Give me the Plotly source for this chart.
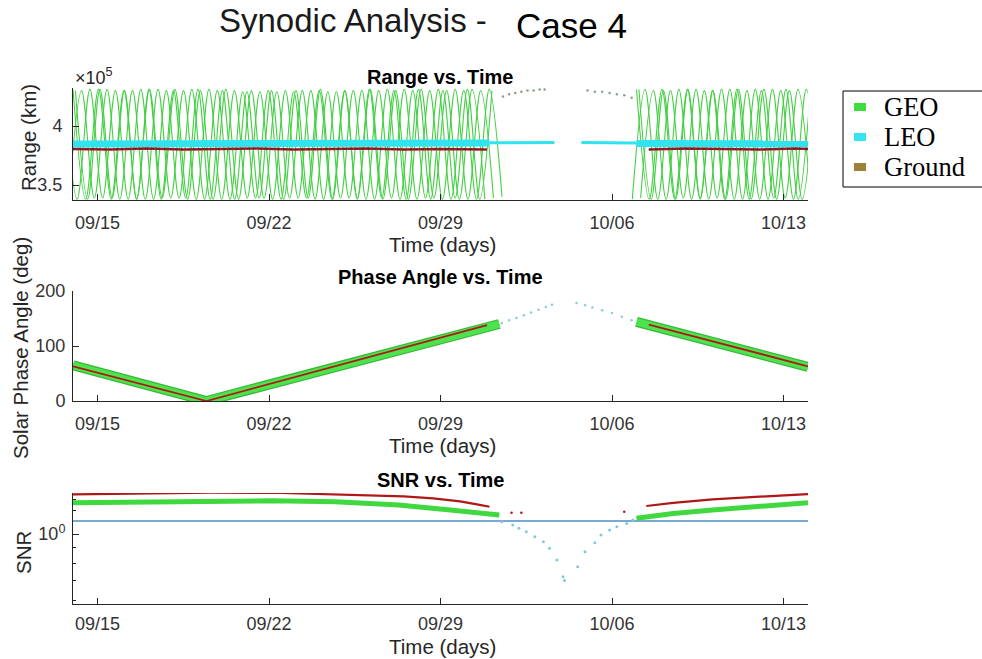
import pandas as pd
import plotly.graph_objects as go

W, H = 982, 659
BASE = pd.Timestamp("2020-09-14")

# ---------------- data (days after 09/14) ----------------
tick_days = [1, 8, 15, 22, 29]
tick_labels = ["09/15", "09/22", "09/29", "10/06", "10/13"]

# Range (units of 1e5 km): GEO satellites, extremes of each daily oscillation
geoA_day = [0.00, 0.52, 1.04, 1.56, 2.08, 2.60, 3.12, 3.64, 4.16, 4.68, 5.20, 5.72, 6.24, 6.76, 7.28, 7.80, 8.32,
            8.84, 9.36, 9.88, 10.40, 10.92, 11.44, 11.96, 12.48, 13.00, 13.52, 14.04, 14.56, 15.08, 15.60, 16.12,
            16.64, 17.16, None,
            23.00, 23.52, 24.04, 24.56, 25.08, 25.60, 26.12, 26.64, 27.16, 27.68, 28.20, 28.72, 29.24, 29.76, 30.28]
geoA_rng = [4.31, 3.38, 4.31, 3.38, 4.30, 3.38, 4.31, 3.39, 4.31, 3.38, 4.30, 3.38, 4.31, 3.38, 4.30, 3.39, 4.29,
            3.39, 4.30, 3.38, 4.29, 3.39, 4.30, 3.38, 4.30, 3.39, 4.31, 3.38, 4.30, 3.38, 4.31, 3.38, 4.30, 3.39, None,
            4.31, 3.38, 4.31, 3.38, 4.31, 3.38, 4.30, 3.38, 4.31, 3.38, 4.31, 3.38, 4.30, 3.38, 4.31]
geoB_day = [-0.17, 0.35, 0.87, 1.39, 1.91, 2.43, 2.95, 3.47, 3.99, 4.51, 5.03, 5.55, 6.07, 6.59, 7.11, 7.63, 8.15,
            8.67, 9.19, 9.71, 10.23, 10.75, 11.27, 11.79, 12.31, 12.83, 13.35, 13.87, 14.39, 14.91, 15.43, 15.95,
            16.47, 16.99, 17.51, None,
            22.83, 23.35, 23.87, 24.39, 24.91, 25.43, 25.95, 26.47, 26.99, 27.51, 28.03, 28.55, 29.07, 29.59, 30.11]
geoB_rng = [3.38, 4.30, 3.39, 4.31, 3.38, 4.30, 3.38, 4.31, 3.39, 4.30, 3.38, 4.31, 3.38, 4.30, 3.39, 4.29, 3.38,
            4.30, 3.39, 4.30, 3.38, 4.29, 3.39, 4.30, 3.38, 4.31, 3.38, 4.30, 3.39, 4.31, 3.38, 4.30, 3.38, 4.31, 3.40,
            None,
            3.38, 4.31, 3.38, 4.30, 3.39, 4.31, 3.38, 4.31, 3.38, 4.30, 3.38, 4.31, 3.39, 4.31, 3.38]
geoC_day = [-0.35, 0.17, 0.69, 1.21, 1.73, 2.25, 2.77, 3.29, 3.81, 4.33, 4.85, 5.37, 5.89, 6.41, 6.93, 7.45, 7.97,
            8.49, 9.01, 9.53, 10.05, 10.57, 11.09, 11.61, 12.13, 12.65, 13.17, 13.69, 14.21, 14.73, 15.25, 15.77,
            16.29, 16.81, None,
            23.17, 23.69, 24.21, 24.73, 25.25, 25.77, 26.29, 26.81, 27.33, 27.85, 28.37, 28.89, 29.41, 29.93, 30.45]
geoC_rng = [4.30, 3.38, 4.31, 3.39, 4.30, 3.38, 4.31, 3.38, 4.30, 3.39, 4.31, 3.38, 4.30, 3.38, 4.29, 3.39, 4.30,
            3.38, 4.29, 3.39, 4.30, 3.38, 4.30, 3.39, 4.31, 3.38, 4.30, 3.38, 4.31, 3.39, 4.30, 3.38, 4.31, 3.38, None,
            3.39, 4.30, 3.38, 4.31, 3.38, 4.30, 3.39, 4.31, 3.38, 4.31, 3.38, 4.30, 3.38, 4.31, 3.38]
geoD_day = [0.10, 0.60, 1.10, 1.60, 2.10, 2.60, 3.10, 3.60, 4.10, 4.60, 5.10, 5.60, 6.10, 6.60, 7.10, 7.60, 8.10,
            8.60, 9.10, 9.60, 10.10, 10.60, 11.10, 11.60, 12.10, 12.60, 13.10, 13.60, 14.10, 14.60, 15.10, 15.60,
            16.10, 16.60, 17.10, None,
            23.10, 23.60, 24.10, 24.60, 25.10, 25.60, 26.10, 26.60, 27.10, 27.60, 28.10, 28.60, 29.10, 29.60, 30.10]
geoD_rng = [4.30, 3.38, 4.31, 3.39, 4.30, 3.38, 4.31, 3.38, 4.30, 3.39, 4.31, 3.38, 4.30, 3.38, 4.29, 3.39, 4.30,
            3.38, 4.30, 3.39, 4.31, 3.38, 4.30, 3.38, 4.31, 3.39, 4.30, 3.38, 4.31, 3.38, 4.30, 3.39, 4.31, 3.38, 4.30,
            None,
            4.31, 3.38, 4.30, 3.38, 4.31, 3.39, 4.30, 3.38, 4.31, 3.38, 4.30, 3.39, 4.31, 3.38, 4.30]
geo_gap_day = [17.55, 17.8, 18.05, 18.3, 18.55, 18.8, 19.05, 19.25, 21.0, 21.3, 21.6, 21.9, 22.2, 22.5, 22.8]
geo_gap_rng = [4.25, 4.27, 4.28, 4.29, 4.30, 4.30, 4.31, 4.31, 4.30, 4.29, 4.29, 4.28, 4.27, 4.26, 4.24]

leo_thick_day = [0, 9, 17.0, None, 23.0, 30.0]
leo_thick_rng = [3.848, 3.850, 3.856, None, 3.852, 3.850]
leo_thin_day = [17.0, 19.65, None, 20.75, 23.0]
leo_thin_rng = [3.858, 3.860, None, 3.860, 3.856]

gnd_rng_day = [0, 1.5, 3, 4.5, 6, 7.5, 9, 10.5, 12, 13.5, 15, 16.9, None, 23.5, 25, 26.5, 28, 29.5, 30]
gnd_rng = [3.805, 3.800, 3.810, 3.800, 3.805, 3.810, 3.800, 3.805, 3.810, 3.800, 3.805, 3.800, None,
           3.800, 3.810, 3.805, 3.800, 3.810, 3.805]

# Solar phase angle (deg)
geo_ph_day = [0, 5.45, 17.4, None, 23.0, 30.0]
geo_ph = [65, 0, 140, None, 144, 62]
gnd_ph_day = [0, 5.45, 16.9, None, 23.5, 30.0]
gnd_ph = [63, 0, 138, None, 139, 63]
leo_ph_day = [17.5, 17.8, 18.1, 18.4, 18.7, 19.0, 19.3, 19.55, 20.55, 20.9, 21.2, 21.6, 22.0, 22.4, 22.8]
leo_ph = [142, 147, 151, 156, 161, 166, 171, 175, 178, 174, 170, 165, 160, 153, 147]

# SNR
gnd_snr_day = [0, 3, 5.7, 8.5, 11.8, 13.5, 14.7, 15.8, 16.6, 17.0, None, 23.4, 24.5, 26.1, 28.1, 30]
gnd_snr = [1.356, 1.365, 1.373, 1.370, 1.349, 1.335, 1.315, 1.285, 1.250, 1.233, None,
           1.240, 1.270, 1.305, 1.331, 1.359]
geo_snr_day = [0, 4, 8.1, 10.7, 13.3, 15.4, 16.5, 17.4, None, 23.0, 24.5, 26.1, 28.1, 30]
geo_snr = [1.271, 1.282, 1.291, 1.281, 1.249, 1.202, 1.180, 1.157, None, 1.128, 1.170, 1.202, 1.240, 1.271]
thr_day = [0, 30]
thr_snr = [1.105, 1.105]
leo_snr_day = [17.5, 17.95, 18.2, 18.5, 18.85, 19.2, 19.45, 19.75, 20.0, 20.06, 20.6, 20.9, 21.3, 21.55, 21.9,
               22.2, 22.6, 22.85]
leo_snr = [1.099, 1.071, 1.045, 1.018, 0.980, 0.943, 0.896, 0.819, 0.720, 0.700, 0.778, 0.873, 0.935, 0.992,
           1.031, 1.058, 1.085, 1.113]
gnd_snr_dot_day = [17.9, 18.3, 22.5]
gnd_snr_dot = [1.178, 1.178, 1.186]

legend_names = ["GEO", "LEO", "Ground"]
legend_colors = ["#3fdc3f", "#33e5f0", "#9b8238"]

# ---------------- helpers ----------------
def dt(days):
    return [None if d is None else BASE + pd.Timedelta(days=d) for d in days]

def px(x):
    return x / W

def py(y):
    return 1 - y / H

GREEN = "#45cf45"
RED = "#b01818"
CYAN = "#30e3ef"

fig = go.Figure()

# ---- Range panel ----
for d, r in [(geoA_day, geoA_rng), (geoB_day, geoB_rng), (geoC_day, geoC_rng), (geoD_day, geoD_rng)]:
    fig.add_trace(go.Scatter(x=dt(d), y=r, mode="lines", line=dict(color=GREEN, width=1.1, shape="spline"),
                             xaxis="x", yaxis="y"))
fig.add_trace(go.Scatter(x=dt(geo_gap_day), y=geo_gap_rng, mode="markers",
                         marker=dict(color="#8aa08a", size=2.5), xaxis="x", yaxis="y"))
fig.add_trace(go.Scatter(x=dt(leo_thick_day), y=leo_thick_rng, mode="lines", line=dict(color=CYAN, width=7),
                         xaxis="x", yaxis="y"))
fig.add_trace(go.Scatter(x=dt(leo_thin_day), y=leo_thin_rng, mode="lines", line=dict(color=CYAN, width=3),
                         xaxis="x", yaxis="y"))
fig.add_trace(go.Scatter(x=dt(gnd_rng_day), y=gnd_rng, mode="lines", line=dict(color=RED, width=2.5),
                         xaxis="x", yaxis="y"))
fig.add_trace(go.Scatter(x=dt(gnd_rng_day), y=gnd_rng, mode="lines", line=dict(color="#2a2a60", width=1, dash="dot"),
                         xaxis="x", yaxis="y"))

# ---- Phase panel ----
fig.add_trace(go.Scatter(x=dt(geo_ph_day), y=geo_ph, mode="lines", line=dict(color="#37b837", width=10),
                         xaxis="x2", yaxis="y2"))
fig.add_trace(go.Scatter(x=dt(geo_ph_day), y=geo_ph, mode="lines", line=dict(color="#4ee24e", width=7.5),
                         xaxis="x2", yaxis="y2"))
fig.add_trace(go.Scatter(x=dt(gnd_ph_day), y=gnd_ph, mode="lines", line=dict(color=RED, width=1.8),
                         xaxis="x2", yaxis="y2"))
fig.add_trace(go.Scatter(x=dt(leo_ph_day), y=leo_ph, mode="markers", marker=dict(color="#8ccbd8", size=2.5),
                         xaxis="x2", yaxis="y2"))

# ---- SNR panel ----
fig.add_trace(go.Scatter(x=dt(thr_day), y=thr_snr, mode="lines", line=dict(color="#4a8fc4", width=1.5),
                         xaxis="x3", yaxis="y3"))
fig.add_trace(go.Scatter(x=dt(geo_snr_day), y=geo_snr, mode="lines", line=dict(color="#3fd83f", width=5),
                         xaxis="x3", yaxis="y3"))
fig.add_trace(go.Scatter(x=dt(gnd_snr_day), y=gnd_snr, mode="lines", line=dict(color=RED, width=2.2),
                         xaxis="x3", yaxis="y3"))
fig.add_trace(go.Scatter(x=dt(leo_snr_day), y=leo_snr, mode="markers", marker=dict(color="#84c8d6", size=3),
                         xaxis="x3", yaxis="y3"))
fig.add_trace(go.Scatter(x=dt(gnd_snr_dot_day), y=gnd_snr_dot, mode="markers", marker=dict(color=RED, size=2.5),
                         xaxis="x3", yaxis="y3"))

# ---------------- axes ----------------
AX = "#262626"
tickfont = dict(family="Liberation Sans", size=18, color="#333333")
xdom = [px(73), px(808)]
xcommon = dict(domain=xdom, range=[BASE, BASE + pd.Timedelta(days=30)], showline=True, linecolor=AX,
               linewidth=1, ticks="inside", ticklen=6, tickcolor=AX, showgrid=False, zeroline=False,
               tickvals=dt(tick_days), ticktext=tick_labels, tickfont=tickfont, ticklabelstandoff=6,
               automargin=False)
ycommon = dict(showline=True, linecolor=AX, linewidth=1, ticks="inside", ticklen=6, tickcolor=AX,
               showgrid=False, zeroline=False, tickfont=tickfont, automargin=False)

fig.update_layout(
    width=W, height=H, margin=dict(l=0, r=0, t=0, b=0, autoexpand=False), showlegend=False,
    plot_bgcolor="white", paper_bgcolor="white",
    xaxis=dict(xcommon, anchor="y"),
    xaxis2=dict(xcommon, anchor="y2"),
    xaxis3=dict(xcommon, anchor="y3", ticklabelstandoff=3),
    yaxis=dict(ycommon, anchor="x", domain=[py(200), py(88)], range=[3.373, 4.322],
               tickvals=[3.5, 4.0], ticktext=["3.5", "4"], ticklabelstandoff=6),
    yaxis2=dict(ycommon, anchor="x2", domain=[py(401), py(291)], range=[0, 200],
                tickvals=[0, 100, 200], ticklabelstandoff=3),
    yaxis3=dict(ycommon, anchor="x3", domain=[py(604), py(493)], type="log", range=[-0.2333, 0.1367],
                tickvals=[1], ticktext=["10<sup>0</sup>"], ticklabelstandoff=3,
                minor=dict(ticks="inside", ticklen=3, tickcolor=AX, tickvals=[0.6, 0.7, 0.8, 0.9, 1.2, 1.3])),
)

# ---------------- text ----------------
ann = []
def text(s, x, y, size, xanchor="center", yanchor="middle", family="Liberation Sans", color="#262626", angle=0):
    ann.append(dict(text=s, x=px(x), y=py(y), xref="paper", yref="paper", showarrow=False,
                    xanchor=xanchor, yanchor=yanchor, textangle=angle, borderpad=0,
                    font=dict(family=family, size=size, color=color)))

text("Synodic Analysis -", 218, 1, 33, xanchor="left", yanchor="top", color="#1a1a1a")
text("Case 4", 515, 26, 35, xanchor="left", color="#000000")
text("<b>Range vs. Time</b>", 440, 77, 20, color="#000000")
text("<b>Phase Angle vs. Time</b>", 440, 277, 20, color="#000000")
text("<b>SNR vs. Time</b>", 440, 480, 20, color="#000000")
text("Time (days)", 442, 244, 20.5)
text("Time (days)", 442, 445, 20.5)
text("Time (days)", 442, 659, 20.5, yanchor="bottom")
text("Range (km)", 28, 138, 20.5, angle=-90)
text("Solar Phase Angle (deg)", 20, 348, 20.5, angle=-90)
text("SNR", 23, 553, 20.5, angle=-90)
text("×10<sup>5</sup>", 74, 77, 18, xanchor="left")

# legend (drawn manually to match the reference spacing)
shapes = [dict(type="rect", xref="paper", yref="paper", x0=px(843), x1=px(990), y0=py(187), y1=py(91),
               line=dict(color="#000000", width=1), fillcolor="white", layer="above")]
for i, (nm, col) in enumerate(zip(legend_names, legend_colors)):
    yc = 107 + 30 * i
    shapes.append(dict(type="rect", xref="paper", yref="paper", x0=px(854), x1=px(866), y0=py(yc + 4),
                       y1=py(yc - 4), line=dict(width=0), fillcolor=col, layer="above"))
    text(nm, 883, yc, 26.5, xanchor="left", family="Liberation Serif", color="#000000")

fig.update_layout(annotations=ann, shapes=shapes)
fig.write_html("out.html")
